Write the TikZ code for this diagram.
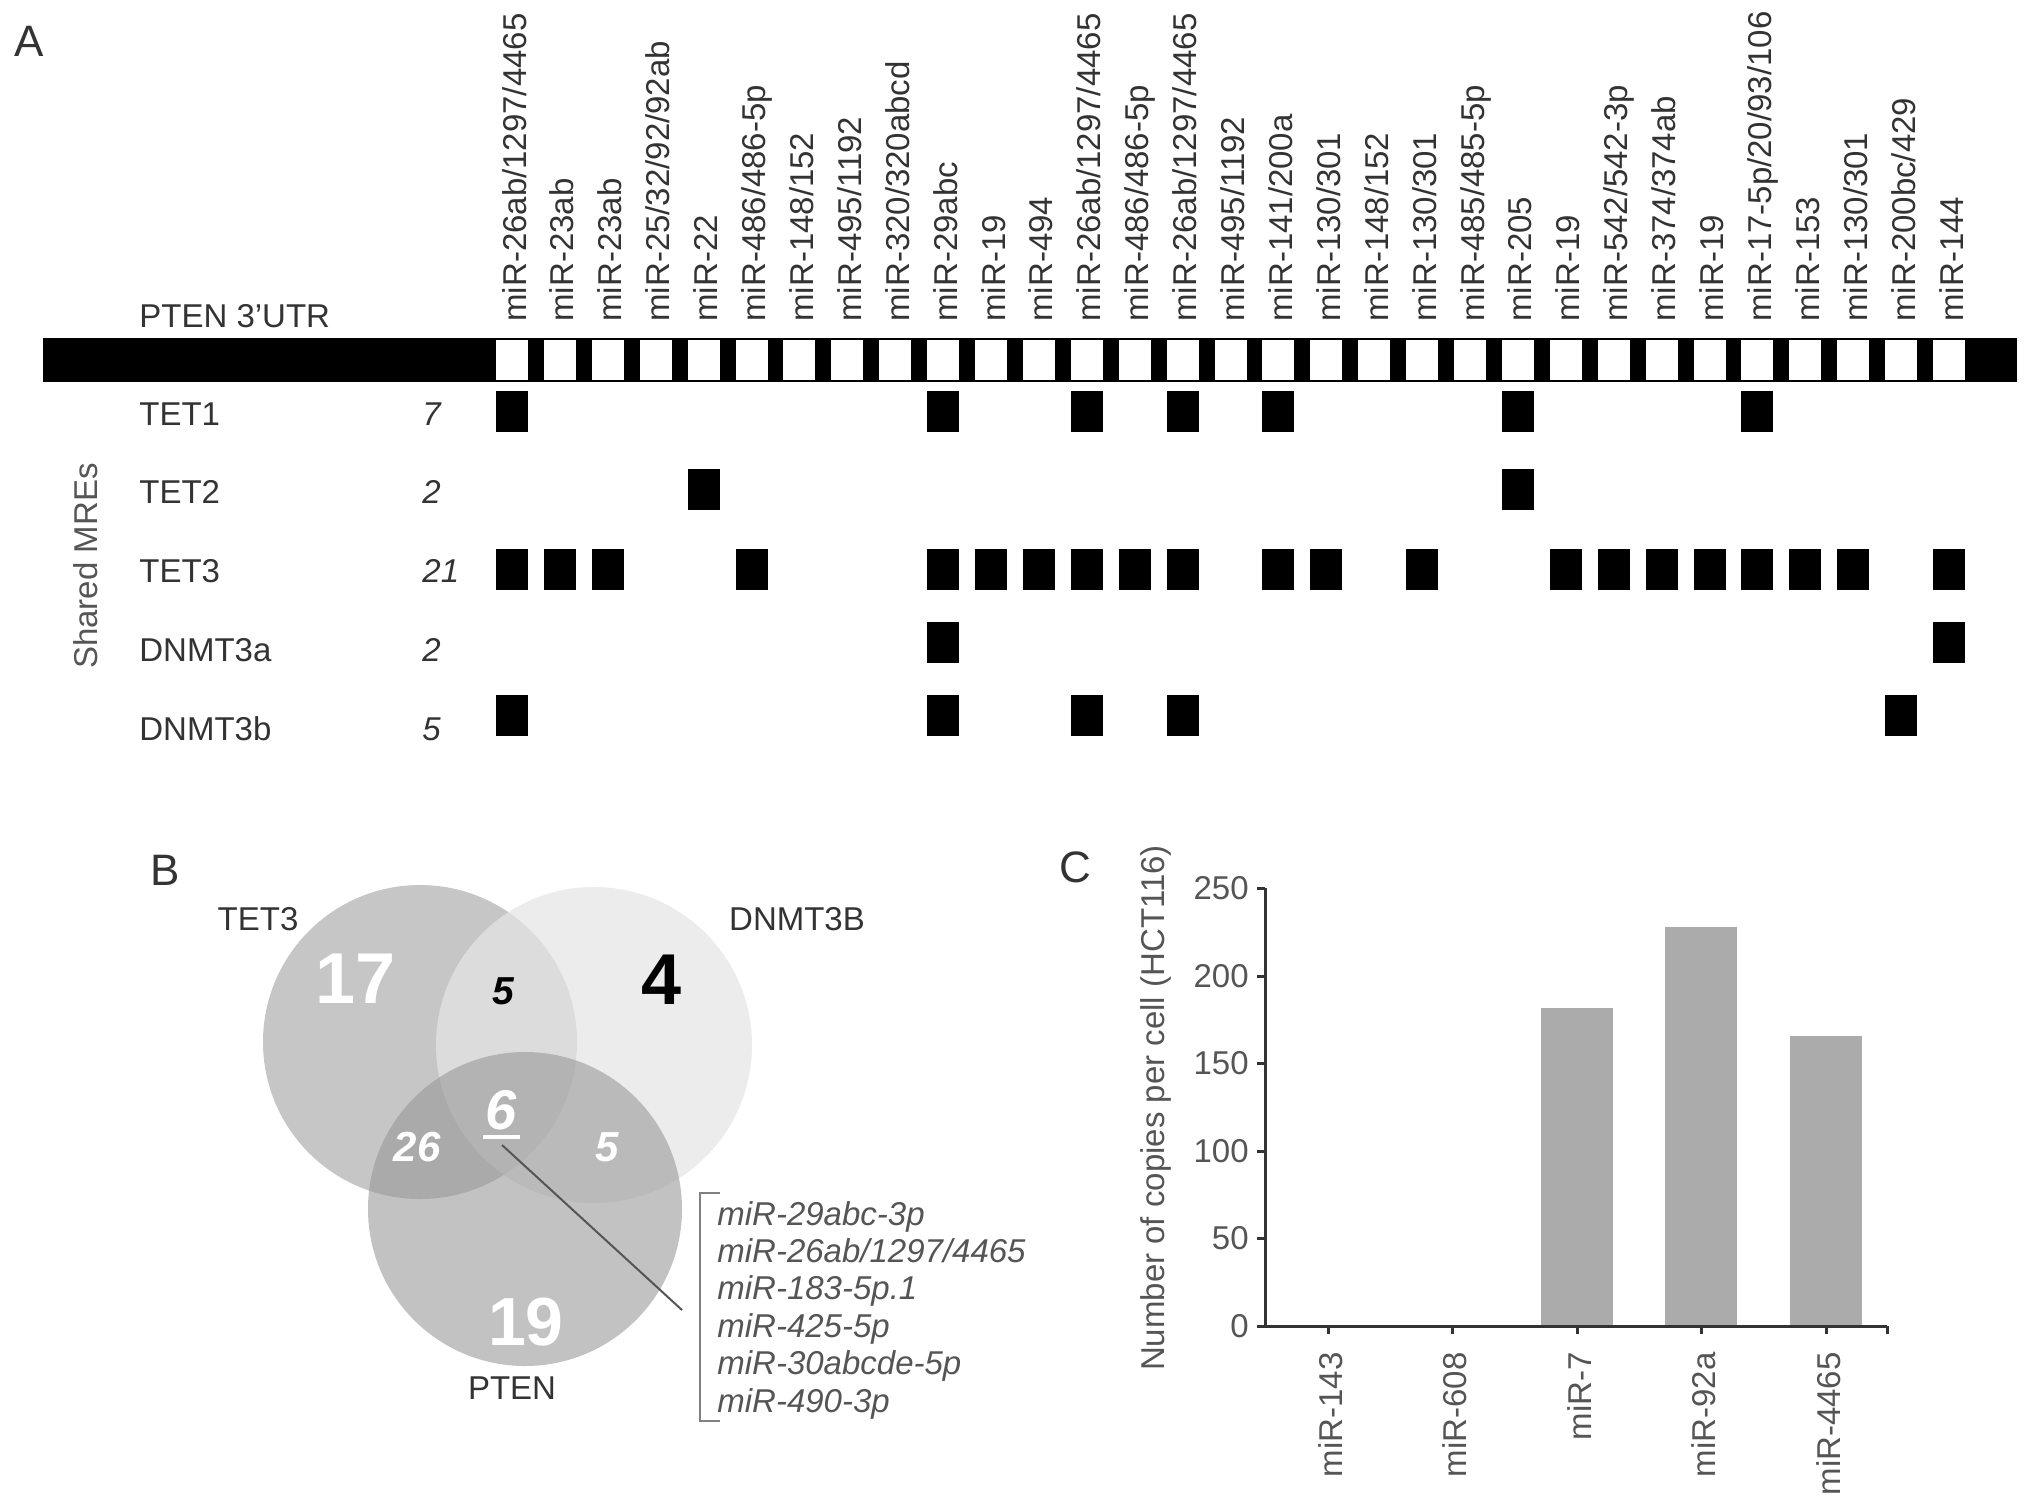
\documentclass[tikz,border=0pt]{standalone}
\usepackage{fontspec}
\setmainfont{Liberation Sans}
\definecolor{tg}{HTML}{333333}
\definecolor{lg}{HTML}{555555}
\definecolor{vA}{gray}{0.776}
\definecolor{vB}{gray}{0.898}
\definecolor{vC}{gray}{0.588}
\definecolor{barc}{HTML}{ABABAB}
\definecolor{axc}{HTML}{333333}
\begin{document}
\begin{tikzpicture}[x=0.5pt,y=-0.5pt,
  lab/.style={inner sep=0pt, text=tg, font=\fontsize{16.5}{20}\selectfont},
  mirlab/.style={lab, rotate=90, anchor=base west},
  rowlab/.style={lab, anchor=west},
  cntlab/.style={lab, anchor=west, font=\fontsize{16.5}{20}\selectfont\itshape},
  panel/.style={inner sep=0pt, text=tg, font=\fontsize{22}{26}\selectfont},
  vnum/.style={inner sep=0pt, font=\bfseries\fontsize{36}{40}\selectfont},
  vinum/.style={inner sep=0pt, font=\bfseries\itshape\fontsize{21}{24}\selectfont},
  listlab/.style={lab, anchor=base west, text=lg, font=\fontsize{16.5}{20}\selectfont\itshape},
  axline/.style={draw=axc, line width=1.5pt},
  ticklab/.style={lab, anchor=east, text=lg},
]
\useasboundingbox (0,0) rectangle (2032,1504);
\fill[white] (0,0) rectangle (2032,1504);

% ---------------- Panel A ----------------
\node[panel] (pA) at (29,41) {A};
\node[rowlab] (utr) at (139,316) {PTEN 3’UTR};
\fill[black] (43,338) rectangle (2017,382);
\foreach \i in {0,...,30}
  \fill[white] ({496+\i*47.9},340) rectangle ++(32,40);
\foreach \t [count=\i from 0] in {miR-26ab/1297/4465,miR-23ab,miR-23ab,miR-25/32/92/92ab,miR-22,miR-486/486-5p,miR-148/152,miR-495/1192,miR-320/320abcd,miR-29abc,miR-19,miR-494,miR-26ab/1297/4465,miR-486/486-5p,miR-26ab/1297/4465,miR-495/1192,miR-141/200a,miR-130/301,miR-148/152,miR-130/301,miR-485/485-5p,miR-205,miR-19,miR-542/542-3p,miR-374/374ab,miR-19,miR-17-5p/20/93/106,miR-153,miR-130/301,miR-200bc/429,miR-144}
  \node[mirlab] (m\i) at ({526+\i*47.9},322) {\t};

\node[lab, rotate=90, text=lg] (smre) at (86,566) {Shared MREs};
\node[rowlab] (r1) at (139,414) {TET1};
\node[rowlab] (r2) at (139,492) {TET2};
\node[rowlab] (r3) at (139,571) {TET3};
\node[rowlab] (r4) at (139,650) {DNMT3a};
\node[rowlab] (r5) at (139,729) {DNMT3b};
\node[cntlab] (c1) at (422,414) {7};
\node[cntlab] (c2) at (422,492) {2};
\node[cntlab] (c3) at (422,571) {21};
\node[cntlab] (c4) at (422,650) {2};
\node[cntlab] (c5) at (422,729) {5};

\foreach \i in {0,9,12,14,16,21,26}
  \fill[black] ({496+\i*47.9},391) rectangle ++(32,41);
\foreach \i in {4,21}
  \fill[black] ({496+\i*47.9},469) rectangle ++(32,41);
\foreach \i in {0,1,2,5,9,10,11,12,13,14,16,17,19,22,23,24,25,26,27,28,30}
  \fill[black] ({496+\i*47.9},549) rectangle ++(32,41);
\foreach \i in {9,30}
  \fill[black] ({496+\i*47.9},622) rectangle ++(32,41);
\foreach \i in {0,9,12,14,29}
  \fill[black] ({496+\i*47.9},695) rectangle ++(32,41);

% ---------------- Panel B ----------------
\node[panel] (pB) at (165,870) {B};
\fill[vA] (420,1042) circle (78.5pt);
\fill[vB, fill opacity=0.72] (594,1045) circle (79pt);
\fill[vC, fill opacity=0.58] (525,1209) circle (78.5pt);

\node[lab] (lTET3) at (258,919) {TET3};
\node[lab] (lDNMT) at (797,919) {DNMT3B};
\node[lab] (lPTEN) at (512,1388) {PTEN};

\node[vnum, text=white] (n17) at (356,979) {17};
\node[vnum, text=black] (n4) at (662,980) {4};
\node[inner sep=0pt, text=black, font=\bfseries\itshape\fontsize{19.5}{22}\selectfont] (n5a) at (503,991) {5};
\node[inner sep=0pt, text=white, font=\bfseries\itshape\fontsize{28}{32}\selectfont] (n6) at (501,1110) {6};
\draw[white, line width=2pt] (483,1137) -- (520,1137);
\node[vinum, text=white] (n26) at (417,1147) {26};
\node[vinum, text=white] (n5b) at (607,1147) {5};
\node[inner sep=0pt, text=white, font=\bfseries\fontsize{34}{38}\selectfont] (n19) at (526,1322) {19};

\coordinate (sixfoot) at (502,1145);
\coordinate (listend) at (682,1310);
\draw[lg, line width=1pt] (sixfoot) -- (listend);

\draw[draw=gray, line width=1pt] (720,1193) -- (700,1193) -- (700,1421) -- (720,1421);
\foreach \t [count=\i from 0] in {miR-29abc-3p,miR-26ab/1297/4465,miR-183-5p.1,miR-425-5p,miR-30abcde-5p,miR-490-3p}
  \node[listlab] (li\i) at (717,{1225+\i*37.4}) {\t};

% ---------------- Panel C ----------------
\node[panel] (pC) at (1075,867) {C};
\fill[barc] (1541,1326) rectangle (1613,{1326-1.75*182});
\fill[barc] (1665,1326) rectangle (1737,{1326-1.75*228});
\fill[barc] (1790,1326) rectangle (1862,{1326-1.75*166});

\draw[axline] (1265,888) -- (1265,1326) -- (1887,1326);
\foreach \v in {0,50,100,150,200,250} {
  \draw[axline] (1257,{1326-1.75*\v}) -- (1265,{1326-1.75*\v});
  \node[ticklab] (yt\v) at (1249,{1326-1.75*\v}) {\v};
}
\foreach \x in {1328,1452,1577,1701,1826,1887}
  \draw[axline] (\x,1326) -- (\x,1334);
\foreach \t/\x [count=\i] in {miR-143/1328,miR-608/1452,miR-7/1577,miR-92a/1701,miR-4465/1826}
  \node[lab, rotate=90, anchor=base east, text=lg] (xl\i) at ({\x+14},1352) {\t};
\node[lab, rotate=90, text=lg] (ytitle) at (1156,1108) {Number of copies per cell (HCT116)};
\end{tikzpicture}
\end{document}
